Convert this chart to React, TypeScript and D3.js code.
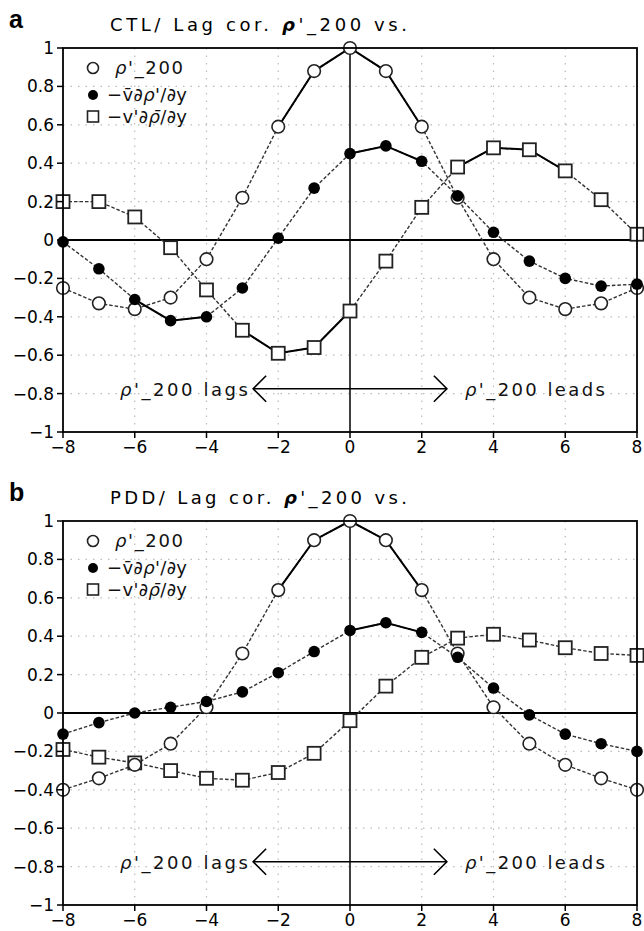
import React from 'react';
import * as d3 from 'd3';

const lags = [-8, -7, -6, -5, -4, -3, -2, -1, 0, 1, 2, 3, 4, 5, 6, 7, 8];
const xTicks = [-8, -6, -4, -2, 0, 2, 4, 6, 8];
const yTicks = [1, 0.8, 0.6, 0.4, 0.2, 0, -0.2, -0.4, -0.6, -0.8, -1];

// Panel a (CTL)
const ctlRho = [-0.25, -0.33, -0.36, -0.30, -0.10, 0.22, 0.59, 0.88, 1.0, 0.88, 0.59, 0.22, -0.10, -0.30, -0.36, -0.33, -0.25];
const ctlMeanAdv = [-0.01, -0.15, -0.31, -0.42, -0.40, -0.25, 0.01, 0.27, 0.45, 0.49, 0.41, 0.23, 0.04, -0.11, -0.20, -0.24, -0.23];
const ctlEddyAdv = [0.20, 0.20, 0.12, -0.04, -0.26, -0.47, -0.59, -0.56, -0.37, -0.11, 0.17, 0.38, 0.48, 0.47, 0.36, 0.21, 0.03];
const ctlRhoSig = [[-2, 2]];
const ctlMeanSig = [[-6, -4], [0, 2]];
const ctlEddySig = [[-3, 0], [3, 6]];

// Panel b (PDD)
const pddRho = [-0.40, -0.34, -0.27, -0.16, 0.03, 0.31, 0.64, 0.90, 1.0, 0.90, 0.64, 0.31, 0.03, -0.16, -0.27, -0.34, -0.40];
const pddMeanAdv = [-0.11, -0.05, 0.0, 0.03, 0.06, 0.11, 0.21, 0.32, 0.43, 0.47, 0.42, 0.29, 0.13, -0.01, -0.11, -0.16, -0.20];
const pddEddyAdv = [-0.19, -0.23, -0.26, -0.30, -0.34, -0.35, -0.31, -0.21, -0.04, 0.14, 0.29, 0.39, 0.41, 0.38, 0.34, 0.31, 0.30];
const pddRhoSig = [[-2, 2]];
const pddMeanSig = [[0, 2]];
const pddEddySig: number[][] = [];

const W = 644;
const H = 931;
const X0 = 63;
const X1 = 637;

type Series = { values: number[]; sig: number[][]; kind: 'open' | 'filled' | 'square' };

function Panel({ top, bottom, letter, title, series }: { top: number; bottom: number; letter: string; title: string; series: Series[] }) {
  const x = d3.scaleLinear().domain([-8, 8]).range([X0, X1]);
  const y = d3.scaleLinear().domain([-1, 1]).range([bottom, top]);
  const line = d3.line<[number, number]>().x(d => x(d[0])).y(d => y(d[1]));
  const tickFont = { fontFamily: 'DejaVu Sans', fontSize: 17, fill: '#000' } as const;
  const txtFont = { fontFamily: 'DejaVu Sans', fontSize: 18, fill: '#111' } as const;
  const arrowY = y(-0.775);
  const xl = x(-2.7);
  const xr = x(2.7);
  const ah = 13;

  const lineEls: React.ReactNode[] = [];
  const markerEls: React.ReactNode[] = [];
  series.forEach((s, si) => {
    const pts: [number, number][] = lags.map((l, i) => [l, s.values[i]]);
    lineEls.push(<path key={`d${si}`} d={line(pts) || ''} fill="none" stroke="#333" strokeWidth={1.4} strokeDasharray="3.5,2" />);
    s.sig.forEach((r, ri) => {
      const sub = pts.filter(p => p[0] >= r[0] && p[0] <= r[1]);
      lineEls.push(<path key={`s${si}-${ri}`} d={line(sub) || ''} fill="none" stroke="#000" strokeWidth={2} />);
    });
  });
  const order: Series['kind'][] = ['square', 'open', 'filled'];
  order.forEach(k => {
    series.filter(s => s.kind === k).forEach((s, si) => {
      lags.forEach((l, i) => {
        const cx = x(l), cy = y(s.values[i]);
        const key = `${k}${si}-${i}`;
        if (k === 'square') markerEls.push(<rect key={key} x={cx - 6.5} y={cy - 6.5} width={13} height={13} fill="#fff" stroke="#222" strokeWidth={1.8} />);
        else if (k === 'open') markerEls.push(<circle key={key} cx={cx} cy={cy} r={6.3} fill="#fff" stroke="#222" strokeWidth={1.6} />);
        else markerEls.push(<circle key={key} cx={cx} cy={cy} r={5.8} fill="#000" />);
      });
    });
  });

  return (
    <g>
      <text x={9} y={top - 20} style={{ fontFamily: 'Liberation Sans', fontWeight: 'bold', fontSize: 25 }}>{letter}</text>
      <text x={110} y={top - 17} textLength={297} lengthAdjust="spacing" style={{ fontFamily: 'DejaVu Sans', fontSize: 18 }}>
        {title}<tspan style={{ fontStyle: 'italic', fontWeight: 'bold' }}>ρ</tspan>'_200 vs.
      </text>
      {/* grid */}
      {xTicks.filter(t => t !== -8 && t !== 8 && t !== 0).map(t => (
        <line key={`gx${t}`} x1={x(t)} x2={x(t)} y1={top} y2={bottom} stroke="#bbb" strokeWidth={1.2} strokeDasharray="1.5,6" />
      ))}
      {yTicks.filter(t => t !== 1 && t !== -1 && t !== 0).map(t => (
        <line key={`gy${t}`} x1={X0} x2={X1} y1={y(t)} y2={y(t)} stroke="#bbb" strokeWidth={1.2} strokeDasharray="1.5,6" />
      ))}
      {/* zero lines */}
      <line x1={X0} x2={X1} y1={y(0)} y2={y(0)} stroke="#000" strokeWidth={1.8} />
      <line x1={x(0)} x2={x(0)} y1={top} y2={bottom} stroke="#000" strokeWidth={1.5} />
      {/* arrow */}
      <line x1={xl} x2={xr} y1={arrowY} y2={arrowY} stroke="#000" strokeWidth={1.6} />
      <path d={`M${xl + ah},${arrowY - ah} L${xl},${arrowY} L${xl + ah},${arrowY + ah}`} fill="none" stroke="#000" strokeWidth={1.6} />
      <path d={`M${xr - ah},${arrowY - ah} L${xr},${arrowY} L${xr - ah},${arrowY + ah}`} fill="none" stroke="#000" strokeWidth={1.6} />
      <text x={120} y={arrowY + 7} textLength={128} lengthAdjust="spacing" style={txtFont}>
        <tspan style={{ fontStyle: 'italic' }}>ρ</tspan>'_200 lags
      </text>
      <text x={465} y={arrowY + 7} textLength={140} lengthAdjust="spacing" style={txtFont}>
        <tspan style={{ fontStyle: 'italic' }}>ρ</tspan>'_200 leads
      </text>
      {lineEls}
      {markerEls}
      {/* legend */}
      <circle cx={93} cy={top + 20} r={5.5} fill="#fff" stroke="#222" strokeWidth={1.6} />
      <circle cx={93} cy={top + 47} r={5} fill="#000" />
      <rect x={87.5} y={top + 63} width={11} height={11} fill="#fff" stroke="#222" strokeWidth={1.6} />
      <text x={115} y={top + 26} textLength={68} lengthAdjust="spacing" style={txtFont}>
        <tspan style={{ fontStyle: 'italic' }}>ρ</tspan>'_200
      </text>
      <text x={107} y={top + 53} textLength={80} lengthAdjust="spacing" style={txtFont}>
        −v̄∂<tspan style={{ fontStyle: 'italic' }}>ρ</tspan>'/∂y
      </text>
      <text x={107} y={top + 75} textLength={80} lengthAdjust="spacing" style={txtFont}>
        −v'∂<tspan style={{ fontStyle: 'italic' }}>ρ̄</tspan>/∂y
      </text>
      {/* frame */}
      <rect x={X0} y={top} width={X1 - X0} height={bottom - top} fill="none" stroke="#000" strokeWidth={1.8} />
      {/* ticks */}
      {yTicks.map(t => (
        <g key={`ty${t}`}>
          <line x1={X0 - 6} x2={X0} y1={y(t)} y2={y(t)} stroke="#000" strokeWidth={1.5} />
          <text x={X0 - 9} y={y(t) + 6} textAnchor="end" style={tickFont}>{t < 0 ? `−${Math.abs(t)}` : `${t}`}</text>
        </g>
      ))}
      {xTicks.map(t => (
        <g key={`tx${t}`}>
          <line x1={x(t)} x2={x(t)} y1={bottom} y2={bottom + 6} stroke="#000" strokeWidth={1.5} />
          <text x={x(t)} y={bottom + 21} textAnchor="middle" style={tickFont}>{t < 0 ? `−${Math.abs(t)}` : `${t}`}</text>
        </g>
      ))}
    </g>
  );
}

export default function App() {
  return (
    <svg width={W} height={H} style={{ position: 'absolute', left: 0, top: 0, background: '#fff' }}>
      <rect width={W} height={H} fill="#fff" />
      <Panel top={48} bottom={432} letter="a" title="CTL/ Lag cor. "
        series={[
          { values: ctlRho, sig: ctlRhoSig, kind: 'open' },
          { values: ctlMeanAdv, sig: ctlMeanSig, kind: 'filled' },
          { values: ctlEddyAdv, sig: ctlEddySig, kind: 'square' },
        ]} />
      <Panel top={521} bottom={905} letter="b" title="PDD/ Lag cor. "
        series={[
          { values: pddRho, sig: pddRhoSig, kind: 'open' },
          { values: pddMeanAdv, sig: pddMeanSig, kind: 'filled' },
          { values: pddEddyAdv, sig: pddEddySig, kind: 'square' },
        ]} />
    </svg>
  );
}
